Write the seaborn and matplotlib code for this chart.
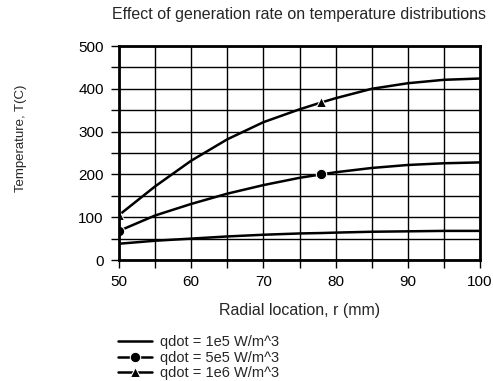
import matplotlib
matplotlib.use("Agg")
import matplotlib.pyplot as plt
import seaborn as sns
import pandas as pd
from matplotlib.ticker import MultipleLocator

sns.set_style("white")
plt.rcParams['font.family'] = ['Liberation Sans', 'DejaVu Sans']

# radial location (mm)
r = [50, 55, 60, 65, 70, 75, 78, 80, 85, 90, 95, 100]
# temperatures (C) for the three generation rates
t_1e5 = [38, 45, 50, 55, 59, 62, 63, 64, 66, 67, 68, 68]
t_5e5 = [68, 104, 131, 155, 175, 192, 200, 205, 215, 222, 226, 228]
t_1e6 = [105, 172, 232, 282, 322, 352, 368, 378, 400, 413, 421, 424]
labels = ["qdot = 1e5 W/m^3", "qdot = 5e5 W/m^3", "qdot = 1e6 W/m^3"]
markers = [None, "o", "^"]
mark_at = [0, 6]

fig = plt.figure(figsize=(4.93, 3.81), dpi=100)
ax = fig.add_axes([119 / 493, 1 - 260 / 381, 361 / 493, 214 / 381])

for temps, lab, mk in zip([t_1e5, t_5e5, t_1e6], labels, markers):
    df = pd.DataFrame({"r": r, "T": temps})
    sns.lineplot(data=df, x="r", y="T", ax=ax, color="black", linewidth=1.8,
                 marker=mk, markersize=7.5, markevery=mark_at if mk else None,
                 label=lab)

ax.set_xlim(50, 100)
ax.set_ylim(0, 500)
ax.xaxis.set_major_locator(MultipleLocator(10))
ax.xaxis.set_minor_locator(MultipleLocator(5))
ax.yaxis.set_major_locator(MultipleLocator(100))
ax.yaxis.set_minor_locator(MultipleLocator(50))
ax.grid(True, which="both", color="black", linewidth=1.0)
ax.tick_params(which="both", direction="out", length=6, width=1, colors="black",
               labelsize=11, left=True, bottom=True, pad=5)
for s in ax.spines.values():
    s.set_color("black")
    s.set_linewidth(2)
ax.set_axisbelow(True)
ax.set_xlabel("")
ax.set_ylabel("")

fig.text(300 / 493, 1 - 310 / 381, "Radial location, r (mm)", fontsize=11.5,
         ha="center", va="center")
fig.text(21 / 493, 1 - 138 / 381, "Temperature, T(C)", fontsize=9.5,
         rotation=90, ha="center", va="center")
fig.text(299 / 493, 1 - 15 / 381,
         "Effect of generation rate on temperature distributions",
         fontsize=11.5, ha="center", va="center")

handles, labs = ax.get_legend_handles_labels()
ax.get_legend().remove()
fig.legend(handles, labs, loc="upper left",
           bbox_to_anchor=(118 / 493, 1 - 335 / 381), frameon=False,
           fontsize=10.5, handlelength=2.3, handletextpad=0.55,
           labelspacing=0.12, borderpad=0, borderaxespad=0)

plt.savefig("out.png", dpi=100)
plt.close()
